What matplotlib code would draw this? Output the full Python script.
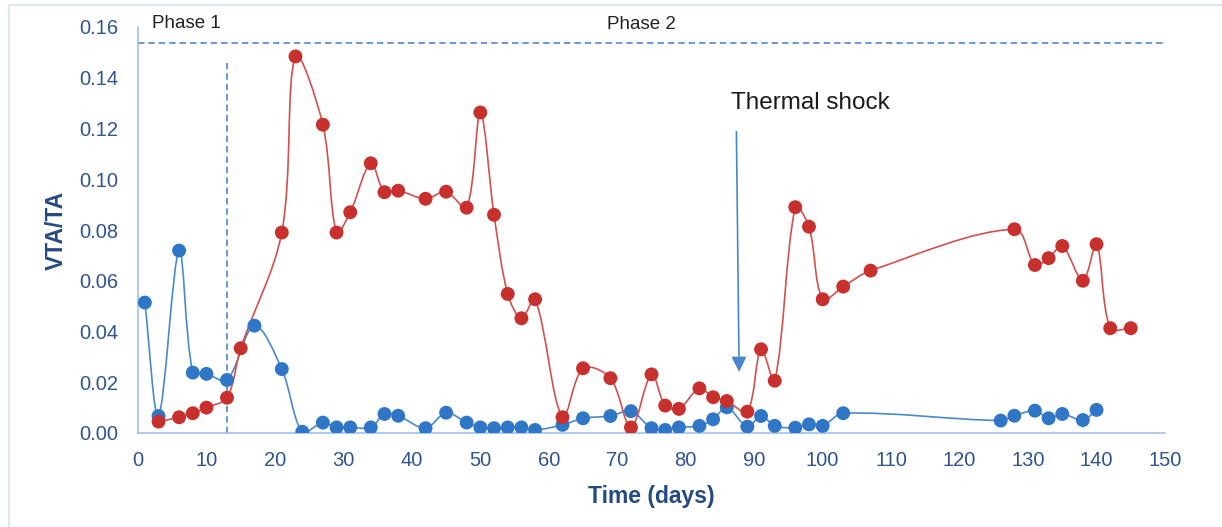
import numpy as np
import matplotlib
matplotlib.use("Agg")
import matplotlib.pyplot as plt
import matplotlib.patheffects as pe
from matplotlib.path import Path
from matplotlib.patches import PathPatch, Rectangle

plt.rcParams["font.family"] = ["Liberation Sans", "DejaVu Sans"]

# ─── DATA ────────────────────────────────────────────────────────────────────
red_days = [3, 6, 8, 10, 13, 15, 21, 23, 27, 29, 31, 34, 36, 38, 42, 45, 48, 50,
            52, 54, 56, 58, 62, 65, 69, 72, 75, 77, 79, 82, 84, 86, 89, 91, 93,
            96, 98, 100, 103, 107, 128, 131, 133, 135, 138, 140, 142, 145]
red_vals = [0.0045, 0.0062, 0.0078, 0.0100, 0.0139, 0.0334, 0.0790, 0.1484,
            0.1215, 0.0790, 0.0870, 0.1063, 0.0949, 0.0955, 0.0923, 0.0951,
            0.0888, 0.1263, 0.0860, 0.0548, 0.0452, 0.0527, 0.0062, 0.0255,
            0.0216, 0.0022, 0.0231, 0.0108, 0.0095, 0.0176, 0.0141, 0.0126,
            0.0084, 0.0330, 0.0206, 0.0890, 0.0813, 0.0527, 0.0577, 0.0640,
            0.0803, 0.0662, 0.0689, 0.0737, 0.0600, 0.0744, 0.0413, 0.0413]

blue_days = [1, 3, 6, 8, 10, 13, 17, 21, 24, 27, 29, 31, 34, 36, 38, 42, 45, 48,
             50, 52, 54, 56, 58, 62, 65, 69, 72, 75, 77, 79, 82, 84, 86, 89, 91,
             93, 96, 98, 100, 103, 126, 128, 131, 133, 135, 138, 140]
blue_vals = [0.0514, 0.0067, 0.0719, 0.0238, 0.0233, 0.0209, 0.0423, 0.0252,
             0.0005, 0.0041, 0.0022, 0.0022, 0.0022, 0.0075, 0.0068, 0.0019,
             0.0080, 0.0041, 0.0022, 0.0019, 0.0022, 0.0022, 0.0012, 0.0032,
             0.0058, 0.0067, 0.0086, 0.0019, 0.0012, 0.0022, 0.0028, 0.0054,
             0.0101, 0.0025, 0.0067, 0.0028, 0.0021, 0.0034, 0.0028, 0.0078,
             0.0049, 0.0068, 0.0088, 0.0058, 0.0075, 0.0051, 0.0091]

phase_split_day = 13
phase_top = 0.1535
shock_top = (87.4, 0.1188)
shock_tip = (87.8, 0.0241)

RED_LINE, RED_DOT = "#D4504D", "#C8302D"
BLUE_LINE, BLUE_DOT = "#4A88CF", "#2F76C6"
TICK_COL = "#2F5491"
LABEL_COL = "#244A82"
SPINE_COL = "#97BCE5"
DASH_COL = "#3F7DCA"

# rough pixel scale of the axes, used only to shape the smoothed lines
PX_X, PX_Y = 6.85, 2536.0


def smooth_path(xs, ys):
    """Smoothed line (Excel-like): cubic Bezier through every point,
    tangents weighted by neighbouring segment lengths to limit overshoot."""
    P = np.column_stack([xs, ys]).astype(float)
    S = P * [PX_X, PX_Y]
    n = len(P)

    def seg(a, b):
        return np.hypot(*(S[b] - S[a]))

    verts = [P[0]]
    codes = [Path.MOVETO]
    for i in range(n - 1):
        i0 = max(i - 1, 0)
        i3 = min(i + 2, n - 1)
        d01, d12, d23 = seg(i0, i), seg(i, i + 1), seg(i + 1, i3)
        w1 = d12 / (d01 + d12) if d01 + d12 > 0 else 0.5
        w2 = d12 / (d12 + d23) if d12 + d23 > 0 else 0.5
        c1 = P[i] + (P[i + 1] - P[i0]) * w1 / 3
        c2 = P[i + 1] - (P[i3] - P[i]) * w2 / 3
        verts += [c1, c2, P[i + 1]]
        codes += [Path.CURVE4] * 3
    return Path(verts, codes)


fig = plt.figure(figsize=(12.22, 5.27), dpi=100)
ax = fig.add_axes([138 / 1222, 1 - 433 / 527, (1165 - 138) / 1222, (433 - 27) / 527])

shadow = [pe.SimpleLineShadow(offset=(1.2, -1.5), alpha=0.25, shadow_color="black"), pe.Normal()]

for days, vals, lc, mc in [(blue_days, blue_vals, BLUE_LINE, BLUE_DOT),
                           (red_days, red_vals, RED_LINE, RED_DOT)]:
    ax.add_patch(PathPatch(smooth_path(days, vals), facecolor="none",
                           edgecolor=lc, linewidth=1.2, zorder=3))
    ax.plot(days, vals, linestyle="none", marker="o", markersize=10,
            color=mc, markeredgewidth=0, zorder=4, path_effects=shadow)

# phase markers
ax.plot([0, 150], [phase_top, phase_top], color=DASH_COL, linewidth=1.1,
        dashes=(4.2, 2.6), clip_on=False, zorder=2)
ax.plot([phase_split_day, phase_split_day], [0, 0.147], color=DASH_COL,
        linewidth=1.1, dashes=(4.2, 2.6), zorder=2)
ax.text(2.0, 0.1613, "Phase 1", fontsize=13.5, color="#222222", ha="left", va="center")
ax.text(73.5, 0.1609, "Phase 2", fontsize=13.5, color="#222222", ha="center", va="center")

# thermal shock annotation
ax.annotate("", xy=shock_tip, xytext=shock_top,
            arrowprops=dict(arrowstyle="-|>,head_length=0.9,head_width=0.45",
                            color="#4A86CB", linewidth=1.2, shrinkA=0, shrinkB=0))
ax.text(86.6, 0.1300, "Thermal shock", fontsize=17.5, color="#1A1A1A",
        ha="left", va="center")

ax.set_xlim(0, 150)
ax.set_ylim(0, 0.16)
ax.set_xticks(np.arange(0, 151, 10))
ax.set_yticks(np.arange(0, 0.161, 0.02))
ax.set_yticklabels([f"{v:.2f}" for v in np.arange(0, 0.161, 0.02)])
ax.tick_params(length=0, labelsize=14.5, labelcolor=TICK_COL)
ax.tick_params(axis="y", pad=14)
ax.tick_params(axis="x", pad=13)

for s in ["top", "right"]:
    ax.spines[s].set_visible(False)
for s in ["left", "bottom"]:
    ax.spines[s].set_color(SPINE_COL)
    ax.spines[s].set_linewidth(1.1)

ax.set_xlabel("Time (days)", fontsize=16.5, fontweight="bold", color=LABEL_COL, labelpad=11)
ax.set_ylabel("VTA/TA", fontsize=16.5, fontweight="bold", color=LABEL_COL, labelpad=8)

# thin frame around the whole picture
fig.patches.append(Rectangle((9 / 1222, -0.05), 1.1, 1 - 5 / 527 + 0.05,
                             transform=fig.transFigure, fill=False,
                             edgecolor="#D5E3F3", linewidth=1.2))

fig.savefig("out.png", dpi=100)
